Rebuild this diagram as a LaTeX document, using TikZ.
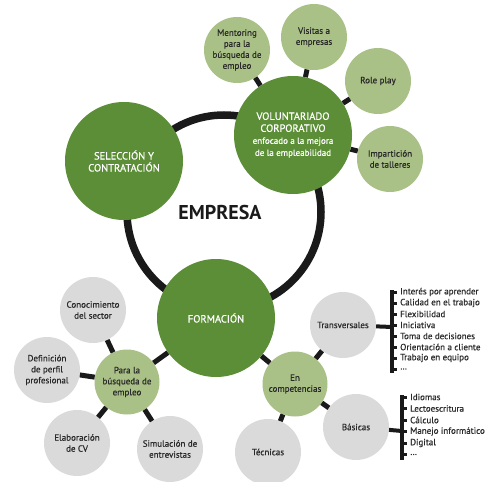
\documentclass[tikz,border=0pt]{standalone}
\usepackage{fontspec}
\setmainfont{PT Sans}
\newfontfamily\medfont[FakeBold=0.6]{PT Sans}
\definecolor{dg}{HTML}{5C8E38}
\definecolor{lg}{HTML}{A9C086}
\definecolor{gr}{HTML}{DADADA}
\definecolor{tx}{HTML}{2A2A2A}
\definecolor{ln}{HTML}{1A1A1A}
\begin{document}
\begin{tikzpicture}[x=1pt,y=-1pt,
  big/.style={circle,fill=dg,minimum size=118pt,inner sep=0pt,text=white,align=center,font=\medfont\fontsize{10.5}{12}\selectfont},
  sat/.style={circle,fill=lg,minimum size=66pt,inner sep=0pt,text=tx,align=center,font=\medfont\fontsize{9}{11}\selectfont},
  mid/.style={circle,fill=lg,minimum size=65pt,inner sep=0pt,text=tx,align=center,font=\medfont\fontsize{9}{11}\selectfont},
  gry/.style={circle,fill=gr,minimum size=66pt,inner sep=0pt,text=tx,align=center,font=\medfont\fontsize{9}{11}\selectfont},
  link/.style={line width=5pt,draw=ln},
  item/.style={anchor=west,inner sep=0pt,text=tx,font=\medfont\fontsize{9}{10}\selectfont},
  brk/.style={line width=3.5pt,draw=ln},
  tick/.style={line width=3pt,draw=ln}
]
\useasboundingbox (0,0) rectangle (489,481);
% ring
\draw[line width=7.5pt,draw=ln] (224,212) circle[radius=97];
% big circles
\node[big] (sel) at (124,161) {SELECCIÓN Y\\CONTRATACIÓN};
\node[big] (vol) at (293,135) {VOLUNTARIADO\\CORPORATIVO\\{\fontsize{9}{11}\selectfont enfocado a la mejora}\\{\fontsize{9}{11}\selectfont de la empleabilidad}};
\node[big] (for) at (216,318) {FORMACIÓN};
\node[text=ln,font=\bfseries\fontsize{20}{20}\selectfont] (emp) at (220,212) {EMPRESA};
% voluntariado satellites
\node[sat] (men) at (237,50) {Mentoring\\para la\\búsqueda de\\empleo};
\node[sat] (vis) at (314,37) {Visitas a\\empresas};
\node[sat] (rol) at (378,81) {Role play};
\node[sat] (imp) at (390,159) {Impartición\\de talleres};
\foreach \s in {men,vis,rol,imp} \draw[link] (vol) -- (\s);
% formacion branches
\node[mid] (bus) at (127,382) {Para la\\búsqueda de\\empleo};
\node[mid] (com) at (295,384) {En\\competencias};
\draw[link] (for) -- (bus);
\draw[link] (for) -- (com);
\node[gry] (con) at (93,310) {Conocimiento\\del sector};
\node[gry] (def) at (47,370) {Definición\\de perfil\\profesional};
\node[gry] (ela) at (77,443) {Elaboración\\de CV};
\node[gry] (sim) at (170,449) {Simulación de\\entrevistas};
\foreach \s in {con,def,ela,sim} \draw[link] (bus) -- (\s);
\node[gry] (trv) at (343,325) {Transversales};
\node[gry] (bas) at (356,427) {Básicas};
\node[gry] (tec) at (268,452) {Técnicas};
\foreach \s in {trv,bas,tec} \draw[link] (com) -- (\s);
% transversales list
\coordinate (tb) at (392,327);
\draw[line width=4pt,draw=ln] (trv) -- (tb);
\draw[brk] (392,290) -- (392,373);
\foreach \t [count=\i from 0] in {{Interés por aprender},{Calidad en el trabajo},{Flexibilidad},{Iniciativa},{Toma de decisiones},{Orientación a cliente},{Trabajo en equipo},{\ldots}}{
  \draw[tick] (391,292+11*\i) -- (397,292+11*\i);
  \node[item] (t\i) at (400,292+11*\i) {\t};
}
% basicas list
\coordinate (bb) at (402,431);
\draw[line width=4pt,draw=ln] (bas) -- (bb);
\draw[brk] (402,395) -- (402,460);
\foreach \t [count=\i from 0] in {{Idiomas},{Lectoescritura},{Cálculo},{Manejo informático},{Digital},{\ldots}}{
  \draw[tick] (401,397+11.5*\i) -- (407,397+11.5*\i);
  \node[item] (b\i) at (410,397+11.5*\i) {\t};
}
\end{tikzpicture}
\end{document}
